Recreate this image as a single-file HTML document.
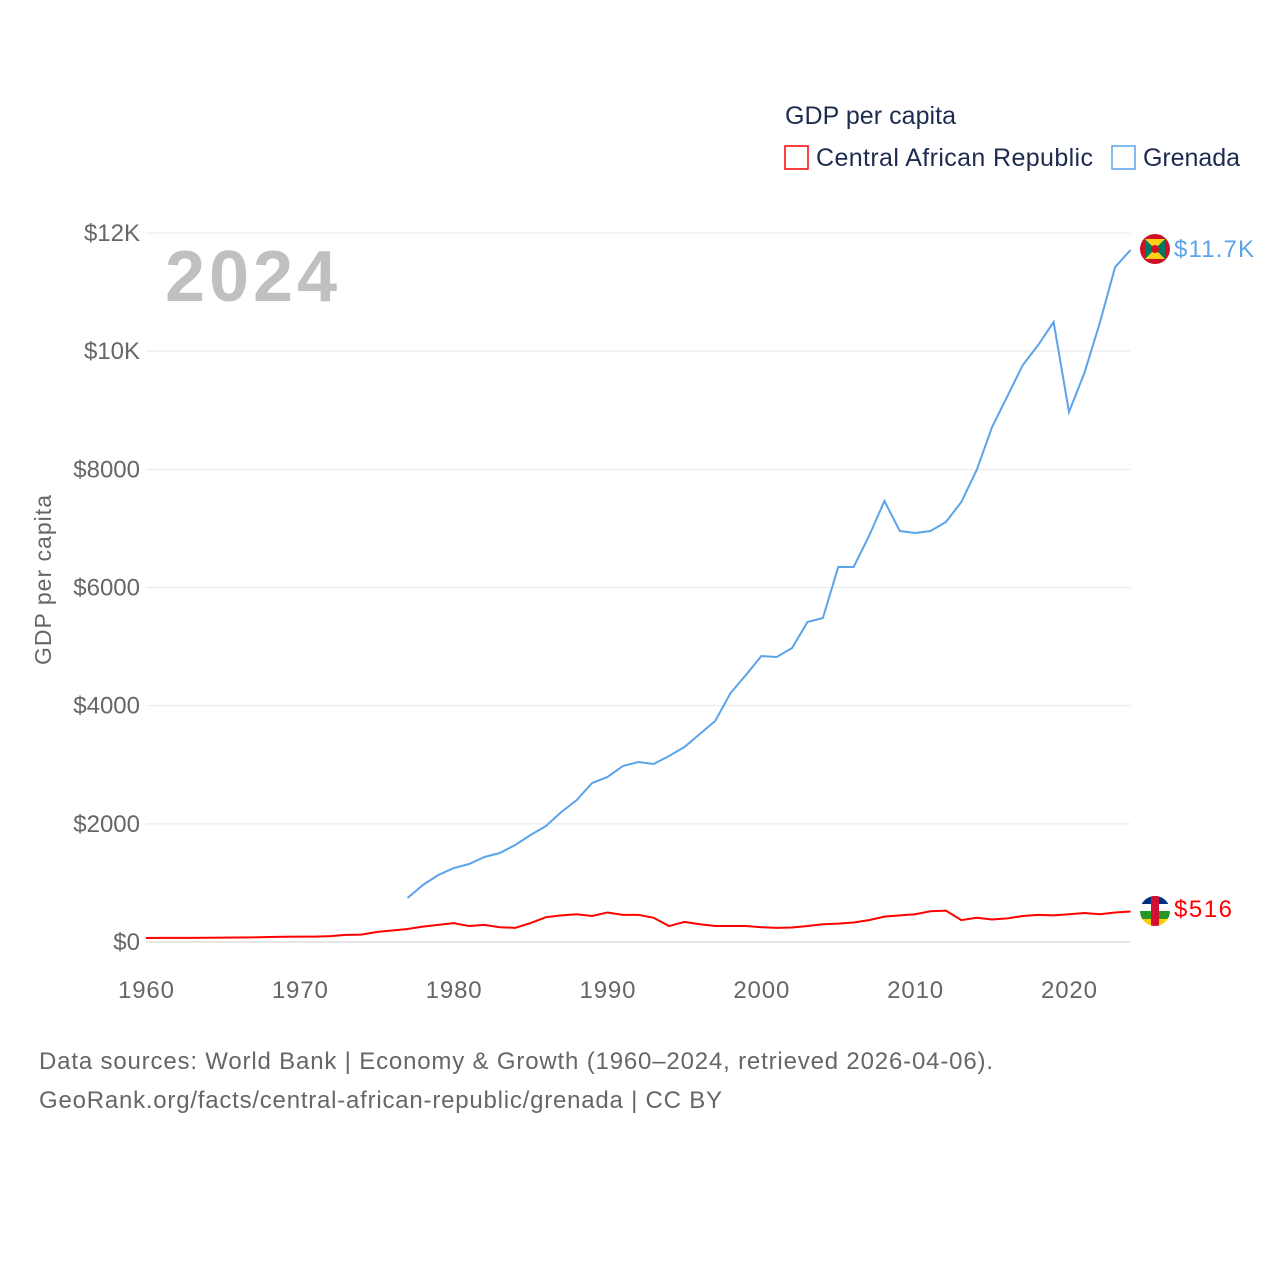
<!DOCTYPE html>
<html><head><meta charset="utf-8">
<style>
body{margin:0;background:#fff;font-family:"Liberation Sans",sans-serif;}
svg text{font-family:"Liberation Sans",sans-serif;}
</style></head>
<body>
<svg id="chart" width="1280" height="1280" viewBox="0 0 1280 1280" xmlns="http://www.w3.org/2000/svg">
<rect width="1280" height="1280" fill="#fff"/>
<text x="785" y="124" font-size="25" fill="#1d2b4f" textLength="171">GDP per capita</text>
<g>
<rect x="785" y="146" width="23" height="23" fill="none" stroke="#ff0000" stroke-width="1.5"/>
<text x="816" y="166" font-size="25" fill="#1d2b4f" textLength="277">Central African Republic</text></g>
<g>
<rect x="1112" y="146" width="23" height="23" fill="none" stroke="#5ba3ea" stroke-width="1.5"/>
<text x="1143" y="166" font-size="25" fill="#1d2b4f" textLength="97">Grenada</text></g>
<text x="165" y="301" font-size="72" font-weight="bold" fill="#c0c0c0" textLength="172">2024</text>
<text transform="translate(51,580) rotate(-90)" text-anchor="middle" font-size="23" fill="#666" textLength="170">GDP per capita</text>
<g id="grid"></g><g id="yticks"></g><g id="xticks"></g><g id="lines"></g>
<g>
<circle cx="1155" cy="249" r="15" fill="#ce1126"/><rect x="1145" y="239" width="20" height="20" fill="#007a5e"/>
<polygon points="1145,239 1165,239 1155,249" fill="#fcd116"/><polygon points="1145,259 1165,259 1155,249" fill="#fcd116"/>
<circle cx="1155" cy="249" r="4" fill="#ce1126"/></g>
<g>
<clipPath id="cc"><circle cx="1155" cy="911" r="15"/></clipPath>
<g clip-path="url(#cc)"><rect x="1140" y="896" width="30" height="8" fill="#003082"/><rect x="1140" y="904" width="30" height="7" fill="#fff"/>
<rect x="1140" y="911" width="30" height="8" fill="#289728"/><rect x="1140" y="919" width="30" height="8" fill="#ffce00"/>
<rect x="1151" y="896" width="8" height="30" fill="#d21034"/></g></g>
<text x="1174" y="257" font-size="24" fill="#5ba3ea" textLength="80">$11.7K</text>
<text x="1174" y="917" font-size="24" fill="#ff0000" textLength="58">$516</text>
<text x="39" y="1069" font-size="24" fill="#666" textLength="954">Data sources: World Bank | Economy &amp; Growth (1960–2024, retrieved 2026-04-06).</text>
<text x="39" y="1108" font-size="24" fill="#666" textLength="683">GeoRank.org/facts/central-african-republic/grenada | CC BY</text>
</svg>
<script>
const years=[];for(let y=1960;y<=2024;y++)years.push(y);
const carValues=[68,70,70,70,72,74,76,78,85,88,90,92,100,120,125,170,195,220,260,290,320,270,290,250,240,320,420,450,470,440,500,460,460,410,270,340,300,270,270,270,250,240,245,270,300,310,330,370,430,450,470,520,530,370,410,380,400,440,460,450,470,490,470,500,516];
const grenadaYears=[1977,1978,1979,1980,1981,1982,1983,1984,1985,1986,1987,1988,1989,1990,1991,1992,1993,1994,1995,1996,1997,1998,1999,2000,2001,2002,2003,2004,2005,2006,2007,2008,2009,2010,2011,2012,2013,2014,2015,2016,2017,2018,2019,2020,2021,2022,2023,2024];
const grenadaValues=[745,965,1134,1252,1320,1439,1506,1642,1811,1963,2200,2403,2691,2793,2979,3046,3013,3148,3300,3520,3740,4214,4519,4840,4823,4976,5416,5484,6347,6347,6872,7464,6956,6922,6956,7108,7447,7989,8716,9241,9766,10104,10493,8970,9630,10476,11424,11712];
const yTicks=[0,2000,4000,6000,8000,10000,12000];
const yTickLabels=["$0","$2000","$4000","$6000","$8000","$10K","$12K"];
const xTicks=[1960,1970,1980,1990,2000,2010,2020];
const NS="http://www.w3.org/2000/svg";
const xs=y=>146+(y-1960)*(923/60);
const ys=v=>942-v*(709/12000);
function mk(tag,attrs,parent){const e=document.createElementNS(NS,tag);for(const k in attrs)e.setAttribute(k,attrs[k]);document.getElementById(parent).appendChild(e);return e;}
yTicks.forEach((v,i)=>{
 const g=mk('line',{x1:146,x2:1130,y1:ys(v),y2:ys(v),stroke:v===0?'#ccc':'#e8e8e8','stroke-width':1},'grid');
 
 
 const t=mk('text',{x:140,y:ys(v)+8,'text-anchor':'end','font-size':24,fill:'#666'},'yticks');
 t.textContent=yTickLabels[i];
 
 
});
xTicks.forEach(y=>{
 const t=mk('text',{x:xs(y),y:998,'text-anchor':'middle','font-size':24,fill:'#666',textLength:56},'xticks');
 t.textContent=y;
 
 
});
const p1=mk('path',{d:years.map((y,i)=>(i?'L':'M')+xs(y)+','+ys(carValues[i])).join(''),fill:'none',stroke:'#ff0000','stroke-width':2},'lines');


const p2=mk('path',{d:grenadaYears.map((y,i)=>(i?'L':'M')+xs(y)+','+ys(grenadaValues[i])).join(''),fill:'none',stroke:'#5ba3ea','stroke-width':2},'lines');


</script>
</body></html>
